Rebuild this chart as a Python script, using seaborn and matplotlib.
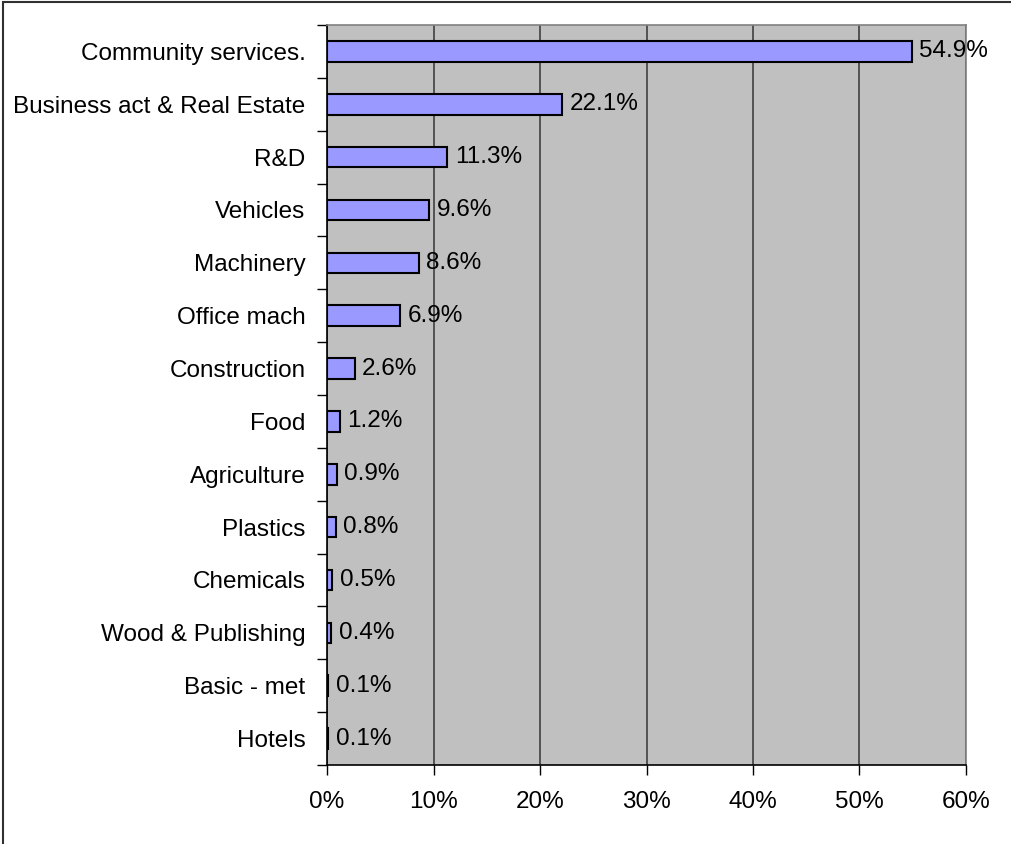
import matplotlib
matplotlib.use("Agg")
import matplotlib.pyplot as plt
import seaborn as sns
import pandas as pd
from matplotlib.patches import Rectangle
from matplotlib.ticker import FixedLocator, FuncFormatter

categories = ["Community services.", "Business act & Real Estate", "R&D", "Vehicles",
              "Machinery", "Office mach", "Construction", "Food", "Agriculture",
              "Plastics", "Chemicals", "Wood & Publishing", "Basic - met", "Hotels"]
values = [54.9, 22.1, 11.3, 9.6, 8.6, 6.9, 2.6, 1.2, 0.9, 0.8, 0.5, 0.4, 0.1, 0.1]
x_ticks = [0, 10, 20, 30, 40, 50, 60]

df = pd.DataFrame({"cat": categories, "val": values})

sns.set_style("white")
plt.rcParams['font.family'] = ['Liberation Sans', 'DejaVu Sans']
FS = 17.5
plt.rcParams['font.size'] = FS
plt.rcParams['text.color'] = 'black'
plt.rcParams['xtick.color'] = 'black'
plt.rcParams['ytick.color'] = 'black'

fig = plt.figure(figsize=(10.11, 8.44), dpi=100)
ax = fig.add_axes([327/1011, 1 - 765/844, (966-327)/1011, (765-25)/844])
ax.set_facecolor("#C0C0C0")

sns.barplot(data=df, x="val", y="cat", orient="h", color="#9999FF",
            saturation=1, width=0.39, edgecolor="black", linewidth=1.5, ax=ax)

ax.set_xlim(0, 60)
ax.set_ylim(len(categories) - 0.5, -0.5)
ax.set_xlabel("")
ax.set_ylabel("")
ax.xaxis.set_major_locator(FixedLocator(x_ticks))
ax.xaxis.set_major_formatter(FuncFormatter(lambda v, p: f"{int(v)}%"))
ax.grid(axis="x", color="#404040", linewidth=1.2)
ax.set_axisbelow(True)

ax.set_yticks(range(len(categories)))
ax.set_yticklabels(categories)
ax.set_yticks([i - 0.5 for i in range(len(categories) + 1)], minor=True)
ax.tick_params(axis="y", which="major", length=0, pad=15.5, labelsize=FS, labelcolor="black")
ax.tick_params(axis="y", which="minor", length=7, width=1, color="black", left=True)
ax.tick_params(axis="x", which="major", length=7, width=1, color="black", bottom=True,
               pad=12, labelsize=FS, labelcolor="black")

for s in ["top", "right"]:
    ax.spines[s].set_color("#808080")
    ax.spines[s].set_linewidth(1.2)
for s in ["left", "bottom"]:
    ax.spines[s].set_color("black")
    ax.spines[s].set_linewidth(1.2)

for i, v in enumerate(values):
    ax.text(v + 0.7, i, f"{v:.1f}%", va="center", ha="left", fontsize=FS, color="black")

fig.patches.append(Rectangle((3/1011, -0.1), 1.2, 1.1 - 2/844, transform=fig.transFigure,
                             fill=False, edgecolor="#303030", linewidth=1.5))

fig.savefig("out.png", dpi=100)
